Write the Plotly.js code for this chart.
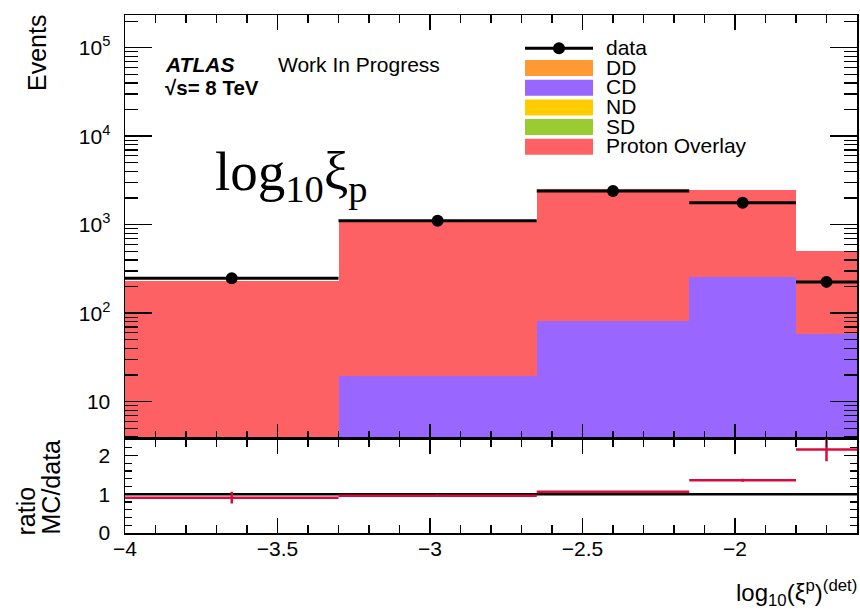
<!DOCTYPE html>
<html>
<head>
<meta charset="utf-8">
<script src="https://cdn.plot.ly/plotly-3.0.1.min.js"></script>
<style>
html,body{margin:0;padding:0;background:#fff;}
#chart{width:860px;height:609px;}
</style>
</head>
<body>
<div id="chart"></div>
<script>
// ---- data ----
const binEdges = [-4, -3.3, -2.65, -2.15, -1.8, -1.6];
const dataEvents = [248, 1110, 2400, 1775, 226];
const ddEvents = [0, 0, 0, 0, 0];
const cdEvents = [4, 19.5, 82, 258, 58];
const ndEvents = [0, 0, 0, 0, 0];
const sdEvents = [0, 0, 0, 0, 0];
const protonOverlayEvents = [227, 1056, 2450, 2200, 442];
const ratioValues = [0.91, 0.96, 1.06, 1.36, 2.15];
const ratioErrors = [0.15, 0.03, 0.02, 0.04, 0.3];
const yTickVals = [10, 100, 1000, 10000, 100000];
const yTickText = ['10', '10<sup>2</sup>', '10<sup>3</sup>', '10<sup>4</sup>', '10<sup>5</sup>'];
const legendNames = ['data', 'DD', 'CD', 'ND', 'SD', 'Proton Overlay'];
const legendColors = ['#000000', '#ff9933', '#9966ff', '#ffcc00', '#99cc33', '#fe6163'];

// ---- derived ----
const centers = [], widths = [], halfW = [];
for (let i = 0; i < binEdges.length - 1; i++) {
  centers.push((binEdges[i] + binEdges[i + 1]) / 2);
  widths.push(binEdges[i + 1] - binEdges[i]);
  halfW.push((binEdges[i + 1] - binEdges[i]) / 2);
}

const FONT = 'Liberation Sans, Arial, Helvetica, sans-serif';
const W = 860, H = 609;
const M = {l: 125, r: 3, t: 15, b: 76};
const PW = W - M.l - M.r, PH = H - M.t - M.b;
const px = v => (v - M.l) / PW;
const py = v => (H - M.b - v) / PH;
const split = py(438.7);

const barTrace = (vals, color, name) => ({
  type: 'bar', x: centers, y: vals, width: widths, name: name,
  marker: {color: color, line: {width: 0}}, xaxis: 'x', yaxis: 'y',
  showlegend: false, hoverinfo: 'skip'
});

const traces = [
  barTrace(ddEvents, legendColors[1], 'DD'),
  barTrace(cdEvents, legendColors[2], 'CD'),
  barTrace(ndEvents, legendColors[3], 'ND'),
  barTrace(sdEvents, legendColors[4], 'SD'),
  barTrace(protonOverlayEvents, legendColors[5], 'Proton Overlay'),
  {
    type: 'scatter', mode: 'markers', x: centers, y: dataEvents, name: 'data',
    marker: {color: '#000', size: 12},
    error_x: {type: 'data', array: halfW, color: '#000', thickness: 3, width: 0},
    xaxis: 'x', yaxis: 'y', showlegend: false
  },
  {
    type: 'scatter', mode: 'markers', x: centers, y: ratioValues, name: 'ratio',
    marker: {color: '#dc0a3c', size: 1},
    error_x: {type: 'data', array: halfW, color: '#dc0a3c', thickness: 2.5, width: 0},
    error_y: {type: 'data', array: ratioErrors, color: '#dc0a3c', thickness: 2.5, width: 0},
    xaxis: 'x2', yaxis: 'y2', showlegend: false
  }
];

const tickFont = {family: FONT, size: 21, color: '#000'};
const baseX = {
  range: [binEdges[0], binEdges[binEdges.length - 1]],
  tick0: -4, dtick: 0.5, ticks: 'inside', ticklen: 15, tickwidth: 1.5, tickcolor: '#000',
  minor: {ticks: 'inside', ticklen: 8, dtick: 0.1, tickwidth: 1.2, tickcolor: '#000'},
  showline: true, linecolor: '#000', linewidth: 1.5, mirror: 'allticks',
  showgrid: false, zeroline: false, tickfont: tickFont
};

const shapes = [
  {type: 'line', xref: 'x2', yref: 'y2', x0: binEdges[0], x1: binEdges[binEdges.length - 1], y0: 1, y1: 1,
   line: {color: '#000', width: 2.5}, layer: 'below'}
];
const annotations = [];

// legend (manual, ROOT style)
const legY = [48.3, 68, 87.7, 107.4, 127.1, 146.8];
const sx0 = 525, sx1 = 593;
legendNames.forEach((nm, i) => {
  if (i === 0) {
    shapes.push({type: 'line', xref: 'paper', yref: 'paper', x0: px(sx0), x1: px(sx1), y0: py(legY[i]), y1: py(legY[i]),
      line: {color: '#000', width: 3}});
    shapes.push({type: 'circle', xref: 'paper', yref: 'paper', x0: px(553), x1: px(565), y0: py(legY[i] - 6), y1: py(legY[i] + 6),
      fillcolor: '#000', line: {width: 0}});
  } else {
    shapes.push({type: 'rect', xref: 'paper', yref: 'paper', x0: px(sx0), x1: px(sx1), y0: py(legY[i] - 8), y1: py(legY[i] + 8),
      fillcolor: legendColors[i], line: {width: 0}});
  }
  annotations.push({xref: 'paper', yref: 'paper', x: px(605), y: py(legY[i] - 1), xanchor: 'left', yanchor: 'middle',
    text: nm, showarrow: false, borderpad: 0, font: {family: FONT, size: 21, color: '#000'}});
});

annotations.push(
  {xref: 'paper', yref: 'paper', x: px(163), y: py(64), xanchor: 'left', yanchor: 'middle', showarrow: false,
   text: '<b><i>ATLAS</i></b>', font: {family: FONT, size: 21, color: '#000'}},
  {xref: 'paper', yref: 'paper', x: px(276), y: py(64), xanchor: 'left', yanchor: 'middle', showarrow: false,
   text: 'Work In Progress', font: {family: FONT, size: 21, color: '#000'}},
  {xref: 'paper', yref: 'paper', x: px(163), y: py(87), xanchor: 'left', yanchor: 'middle', showarrow: false,
   text: '<b>√s= 8 TeV</b>', font: {family: FONT, size: 20.5, color: '#000'}},
  {xref: 'paper', yref: 'paper', x: px(213), y: py(175), xanchor: 'left', yanchor: 'middle', showarrow: false,
   text: 'log<sub>10</sub>ξ<sub>p</sub>', font: {family: 'Liberation Serif, DejaVu Serif, serif', size: 55, color: '#000'}},
  {xref: 'paper', yref: 'paper', x: px(37), y: py(13), xanchor: 'center', yanchor: 'top', showarrow: false,
   textangle: -90, text: 'Events', font: {family: FONT, size: 25, color: '#000'}},
  {xref: 'paper', yref: 'paper', x: px(25), y: py(537), xanchor: 'center', yanchor: 'bottom', showarrow: false,
   textangle: -90, text: 'ratio', font: {family: FONT, size: 25, color: '#000'}},
  {xref: 'paper', yref: 'paper', x: px(50), y: py(537), xanchor: 'center', yanchor: 'bottom', showarrow: false,
   textangle: -90, text: 'MC/data', font: {family: FONT, size: 25, color: '#000'}},
  {xref: 'paper', yref: 'paper', x: px(859), y: py(574), xanchor: 'right', yanchor: 'top', showarrow: false,
   text: 'log<sub>10</sub>(ξ<sup>p</sup>)<sup>(det)</sup>', font: {family: FONT, size: 24, color: '#000'}}
);

const layout = {
  width: W, height: H, margin: M,
  paper_bgcolor: '#fff', plot_bgcolor: '#fff',
  barmode: 'stack', bargap: 0, showlegend: false,
  xaxis: Object.assign({}, baseX, {anchor: 'y', showticklabels: false, matches: 'x2'}),
  yaxis: {
    domain: [split, 1], anchor: 'x', type: 'log', range: [0.582, 5.37],
    tickvals: yTickVals, ticktext: yTickText, ticks: 'inside', ticklen: 27, tickwidth: 1.5, tickcolor: '#000',
    minor: {ticks: 'inside', ticklen: 13, dtick: 'D1', tickwidth: 1.2, tickcolor: '#000'},
    showline: true, linecolor: '#000', linewidth: 1.5, mirror: 'allticks',
    showgrid: false, zeroline: false, tickfont: tickFont, ticklabelstandoff: 9
  },
  xaxis2: Object.assign({}, baseX, {anchor: 'y2', ticklabelstandoff: -4}),
  yaxis2: {
    domain: [0, split], anchor: 'x2', range: [0, 2.43], tick0: 0, dtick: 1,
    ticks: 'inside', ticklen: 13, tickwidth: 1.5, tickcolor: '#000',
    minor: {ticks: 'inside', ticklen: 7, dtick: 0.2, tickwidth: 1.2, tickcolor: '#000'},
    showline: true, linecolor: '#000', linewidth: 1.5, mirror: 'allticks',
    showgrid: false, zeroline: false, tickfont: tickFont, ticklabelstandoff: 9
  },
  shapes: shapes,
  annotations: annotations
};

Plotly.newPlot('chart', traces, layout, {displayModeBar: false, staticPlot: true});
</script>
</body>
</html>
